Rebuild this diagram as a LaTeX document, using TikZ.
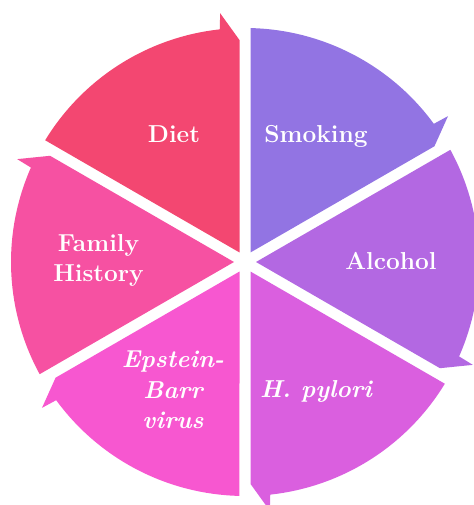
\documentclass[tikz,border=0pt]{standalone}
\usepackage{fontspec}
\definecolor{cDiet}{RGB}{243,71,113}
\definecolor{cSmoke}{RGB}{146,116,227}
\definecolor{cAlc}{RGB}{179,104,226}
\definecolor{cHp}{RGB}{218,95,223}
\definecolor{cEb}{RGB}{247,87,208}
\definecolor{cFam}{RGB}{246,81,162}
\newcommand\mysector[2]{%
  \pgfmathsetmacro\sa{#1-1.35}%
  \pgfmathsetmacro\ea{#1-60+6.2}%
  \pgfmathsetmacro\ta{#1-60+5.7}%
  \pgfmathsetmacro\pa{#1-60+1.42}%
  \pgfmathsetmacro\ma{#1-30}%
  \fill[#2] (\ma:11) -- (\sa:234) arc[start angle=\sa, end angle=\ea, radius=234pt]
     -- (\ta:250) -- (\pa:222) -- cycle;}
\tikzset{
  lbl/.style={text=white, font=\fontsize{24.5}{30}\selectfont\bfseries, align=center, inner sep=0pt},
  ilbl/.style={lbl, font=\fontsize{24.5}{30.5}\selectfont\bfseries\itshape}
}
\begin{document}
\begin{tikzpicture}[x=1pt,y=1pt]
\useasboundingbox (0,0) rectangle (473,505);
\begin{scope}[shift={(245,243)}]
  \mysector{90}{cSmoke}
  \mysector{30}{cAlc}
  \mysector{-30}{cHp}
  \mysector{-90}{cEb}
  \mysector{-150}{cFam}
  \mysector{150}{cDiet}
\end{scope}
\node[lbl, anchor=base] (diet) at (174,362) {Diet};
\node[lbl, anchor=base] (smoking) at (316,362) {Smoking};
\node[lbl, anchor=base] (alcohol) at (391,235) {Alcohol};
\node[ilbl, anchor=base] (hp) at (316,107) {H. pylori};
\node[ilbl] (eb) at (173,115) {Epstein-\\Barr\\virus};
\node[lbl] (fam) at (98.5,245) {Family\\History};
\end{tikzpicture}
\end{document}
